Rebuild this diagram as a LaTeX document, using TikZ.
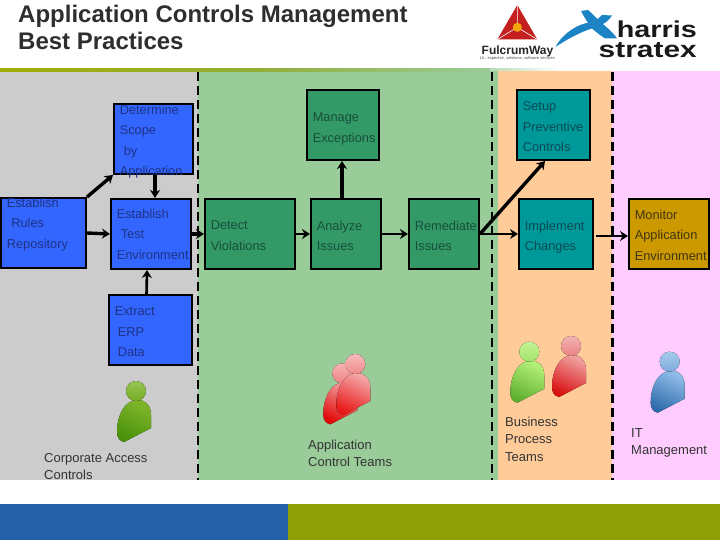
\documentclass[tikz,border=0pt]{standalone}
\usepackage{fontspec}
\setmainfont{Liberation Sans}
\usetikzlibrary{arrows.meta}
\definecolor{bggray}{HTML}{CCCCCC}
\definecolor{bggreen}{HTML}{99CC99}
\definecolor{bgorange}{HTML}{FFCC99}
\definecolor{bgpink}{HTML}{FFCCFF}
\definecolor{footblue}{HTML}{2360A8}
\definecolor{footolive}{HTML}{8F9F07}
\definecolor{boxblue}{HTML}{3366FF}
\definecolor{boxgreen}{HTML}{339966}
\definecolor{boxteal}{HTML}{009999}
\definecolor{boxgold}{HTML}{CC9900}
\definecolor{txtblue}{HTML}{1F3385}
\definecolor{txtgreen}{HTML}{17503C}
\definecolor{txtteal}{HTML}{0A4A55}
\definecolor{txtgold}{HTML}{403510}
\definecolor{logoblue}{HTML}{1C84C4}
\definecolor{logored}{HTML}{C4201F}
\newcommand{\steptext}[3]{\parbox[c][70.4pt][t]{\dimexpr#1pt-1.6pt\relax}{\fontsize{12.8}{20.5}\selectfont\leftskip=6pt\rightskip=0pt plus 1fil\parindent=0pt\vspace*{\dimexpr#2pt-1pt\relax}#3}}
\tikzset{
    stepbox/.style={draw=black,line width=1.6pt,inner sep=0pt,anchor=north west},
    bluebox/.style={stepbox,fill=boxblue,text=txtblue},
    greenbox/.style={stepbox,fill=boxgreen,text=txtgreen},
    tealbox/.style={stepbox,fill=boxteal,text=txtteal},
    goldbox/.style={stepbox,fill=boxgold,text=txtgold},
    teamlabel/.style={anchor=north west,inner sep=0pt,align=left,text=black!80,font=\fontsize{13}{17.2}\selectfont},
    flow/.style={->,line width=3.4pt},
    thinflow/.style={->,line width=2.6pt},
}
\begin{document}
\begin{tikzpicture}[x=1pt,y=-1pt,>={Stealth[length=8pt,width=10pt]}]
\useasboundingbox (0,0) rectangle (720,540);
%background bands
\fill[bggray] (0,71) rectangle (198,480);
\fill[bggreen] (198,71) rectangle (498,480);
\fill[bgorange] (498,71) rectangle (612,480);
\fill[bgpink] (612,71) rectangle (720,480);
\fill[left color=footolive!85!yellow,right color=bggreen,middle color=footolive!70!bggreen] (0,69) rectangle (490,72);
\fill[left color=bggreen!70!white,right color=white] (490,69) rectangle (560,71);
\fill[footblue] (0,504) rectangle (288,540);
\fill[footolive] (288,504) rectangle (720,540);
%title
\node[anchor=north west,inner sep=0pt,align=left,text=black!82,font=\fontsize{24}{27}\selectfont\bfseries] (title) at (18,5) {Application Controls Management\\Best Practices};
%logos
\fill[logored] (517.3,5) -- (537.3,39.5) -- (497.3,39.5) -- cycle;
\draw[white,line width=.6pt] (517.3,5) -- (517.3,27.3) -- (497.3,39.5) (517.3,27.3) -- (537.3,39.5);
\fill[orange!60!yellow!80!brown] (517.3,27.3) circle (4.5);
\node[anchor=base,inner sep=0pt,font=\fontsize{12}{12}\selectfont\bfseries,text=black!85] (fulcrum) at (517.5,55) {FulcrumWay};
\node[anchor=base,inner sep=0pt,font=\fontsize{4}{4}\selectfont,text=black!70] (fulcrumsub) at (517.5,59.5) {Lit., expertise, solutions, software services};
\fill[logoblue] (555.5,47) .. controls (561,36) and (574,26) .. (585,23.5) .. controls (592,22) and (598,20) .. (602,15) -- (612,15.5) .. controls (609,21) and (603,25) .. (592,28.5) .. controls (580,32) and (566,40) .. (555.5,47) -- cycle;
\fill[logoblue] (581,11) -- (588,10) .. controls (592,13) and (596,18) .. (600,21.5) .. controls (606,27) and (613,32) .. (617,38.5) -- (605,38.5) .. controls (600,35) and (596,32) .. (592,28.5) .. controls (588,23) and (584,17) .. (581,11) -- cycle;
\node[anchor=base east,inner sep=0pt,font=\fontsize{23}{23}\selectfont\bfseries,text=black!90] (harris) at (697,38) {\scalebox{1.25}[1]{harris}};
\node[anchor=base east,inner sep=0pt,font=\fontsize{23}{23}\selectfont\bfseries,text=black!90] (stratex) at (697,58) {\scalebox{1.3}[1]{stratex}};
%process boxes
\node[bluebox] (determine) at (113,103) {\steptext{81}{2}{Determine\\Scope\\\hspace*{4pt}by\\Application}};
\node[bluebox] (rules) at (0,197) {\steptext{87}{1}{Establish\\\hspace*{4.5pt}Rules\\Repository}};
\node[bluebox] (test) at (110,198) {\steptext{82}{11}{Establish\\\hspace*{4pt}Test\\Environment}};
\node[bluebox] (extract) at (108,294) {\steptext{85}{13}{Extract\\\hspace*{3pt}ERP\\\hspace*{3pt}Data}};
\node[greenbox] (detect) at (204,198) {\steptext{92}{23}{Detect\\Violations}};
\node[greenbox] (manage) at (306,89) {\steptext{74}{24}{Manage\\Exceptions}};
\node[greenbox] (analyze) at (310,198) {\steptext{72}{23}{Analyze\\Issues}};
\node[greenbox] (remediate) at (408,198) {\steptext{72}{23}{Remediate\\Issues}};
\node[tealbox] (setup) at (516,89) {\steptext{75}{13}{Setup\\Preventive\\Controls}};
\node[tealbox] (implement) at (518,198) {\steptext{76}{23}{Implement\\Changes}};
\node[goldbox] (monitor) at (628,198) {\steptext{82}{12}{Monitor\\Application\\Environment}};
%arrows between the boxes
\draw[flow] (rules.north east)--(determine.south west);
\draw[flow] ([xshift=1.5pt]determine.south)--([xshift=4pt]test.north);
\draw[flow] (rules.east)--(test.west);
\draw[flow] (test.east)--(detect.west);
\draw[thinflow] ([xshift=-4pt]extract.north)--([xshift=-4pt]test.south);
\draw[thinflow] (detect.east)--(analyze.west);
\draw[flow] ([xshift=-4pt]analyze.north)--([xshift=-1pt]manage.south);
\draw[thinflow] (analyze.east)--(remediate.west);
\draw[flow] (remediate.east)--([xshift=-8.5pt]setup.south);
\draw[thinflow] (remediate.east)--(implement.west);
\draw[thinflow] ([yshift=-2pt,xshift=2pt]implement.east)--([yshift=-2pt]monitor.west);
%dashed borders of the bands
\foreach \x/\w in {198/2.4,492/2.4,612/3}
{
    \draw[line width=\w pt,dash pattern=on 9pt off 5pt] (\x,72)--(\x,480);
}
%people
\foreach \hx/\hy/\hi/\lo in {136/391/7FB52A/4A920C,342.3/373.3/F4A0A0/E00808,355.3/364/F4A8A8/E81818,529.3/351.7/B4F078/5FB030,571/346/F0A0A0/D81010,669.7/361.7/90BCE8/2F6CAC}
{
    \definecolor{hicol}{HTML}{\hi}
    \definecolor{locol}{HTML}{\lo}
    \begin{scope}[shift={(\hx,\hy)}]
        \fill[top color=hicol,bottom color=locol,shading angle=-25] (-12,51) .. controls (-17,50) and (-19,46) .. (-19,41) .. controls (-19,25) and (-12,9) .. (2,9) .. controls (10,9) and (15,15) .. (15,24) -- (15,37) -- cycle;
        \fill[top color=hicol!80!white,bottom color=hicol!80!locol] (0,0) circle (10);
    \end{scope}
}
%team labels
\node[teamlabel] (corporate) at (44,453.5) {Corporate Access\\Controls};
\node[teamlabel] (appteams) at (308,440) {Application\\Control Teams};
\node[teamlabel] (business) at (505,417) {Business\\Process\\Teams};
\node[teamlabel] (itteam) at (631,428.5) {IT\\Management};
\end{tikzpicture}
\end{document}
